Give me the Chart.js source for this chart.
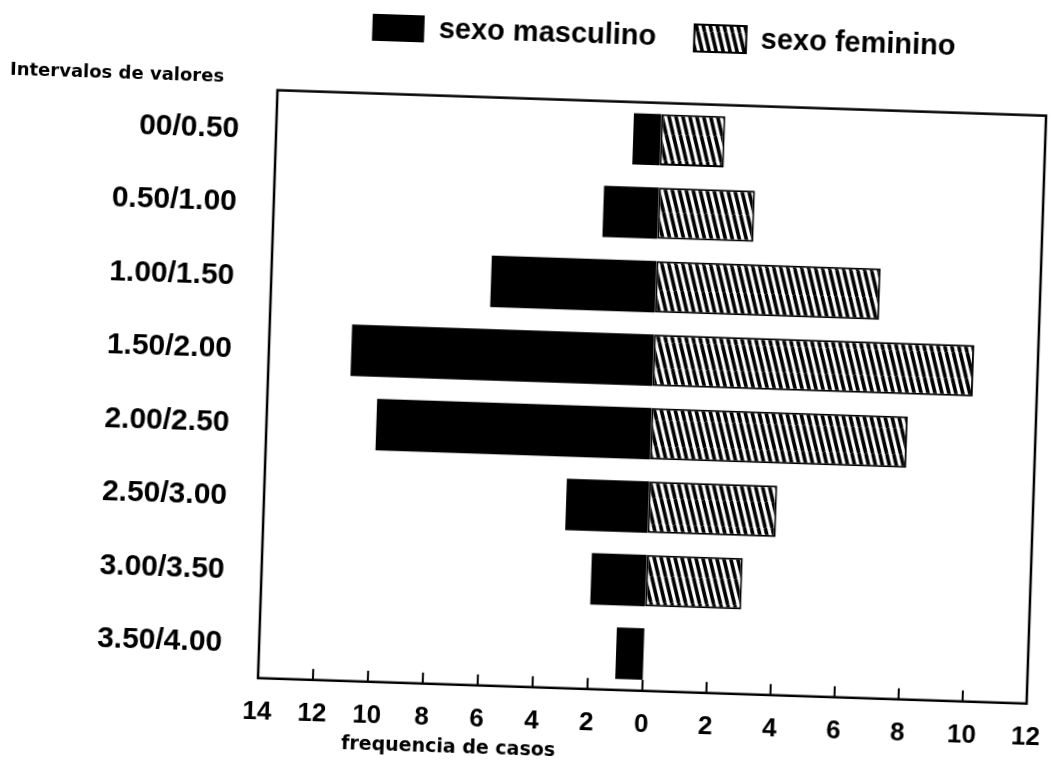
<!DOCTYPE html>
<html>
<head>
<meta charset="utf-8">
<script src="https://cdn.jsdelivr.net/npm/chart.js@4"></script>
<style>
  html, body { margin: 0; padding: 0; background: #fff; overflow: hidden; }
  /* a folha digitalizada esta ligeiramente torta */
  #folha { width: 1051px; height: 762px; transform: rotate(1.9deg); transform-origin: 50% 50%; }
</style>
</head>
<body>
<div id="folha"><canvas id="grafico" width="1051" height="762"></canvas></div>
<script>
// DADOS
const intervalos = ['00/0.50', '0.50/1.00', '1.00/1.50', '1.50/2.00', '2.00/2.50', '2.50/3.00', '3.00/3.50', '3.50/4.00'];
const masculino = [1, 2, 6, 11, 10, 3, 2, 1];
const feminino = [2, 3, 7, 10, 8, 4, 3, 0];
const eixoMin = -14;
const eixoMax = 12;
const passo = 2;

const letraForte = '"Liberation Sans", Arial, sans-serif';
Chart.defaults.font.family = '"DejaVu Sans", sans-serif';
Chart.defaults.color = '#000';

// escala com o lado esquerdo (0..14) e o direito (0..12) da mesma largura
class EscalaDividida extends Chart.LinearScale {
  getPixelForValue(v) {
    const meio = (this.left + this.right) / 2;
    if (v <= 0) return meio - v / this.min * (meio - this.left);
    return meio + v / this.max * (this.right - meio);
  }
  getValueForPixel(p) {
    const meio = (this.left + this.right) / 2;
    if (p <= meio) return (meio - p) / (meio - this.left) * this.min;
    return (p - meio) / (this.right - meio) * this.max;
  }
}
EscalaDividida.id = 'dividida';
EscalaDividida.defaults = Chart.LinearScale.defaults;
Chart.register(EscalaDividida);

// hachurado do sexo feminino
function hachura() {
  const c = document.createElement('canvas');
  c.width = 7; c.height = 26;
  const g = c.getContext('2d');
  g.fillStyle = '#fff';
  g.fillRect(0, 0, 7, 26);
  g.strokeStyle = '#000';
  g.lineWidth = 3.6;
  for (let k = -1; k <= 1; k++) {
    g.beginPath();
    g.moveTo(k * 7, 0);
    g.lineTo(k * 7 + 7, 26);
    g.stroke();
  }
  return g.createPattern(c, 'repeat');
}

// moldura, tracinhos do eixo e legenda do eixo x
const moldura = {
  id: 'moldura',
  afterDraw(chart) {
    const { ctx, chartArea: a } = chart;
    const x = chart.scales.x;
    ctx.save();
    ctx.strokeStyle = '#000';
    ctx.lineWidth = 2.5;
    ctx.strokeRect(a.left, a.top, a.right - a.left, a.bottom - a.top);
    ctx.lineWidth = 2;
    x.ticks.forEach(t => {
      if (t.value === x.min || t.value === x.max) return;
      const px = x.getPixelForValue(t.value);
      ctx.beginPath();
      ctx.moveTo(px, a.bottom);
      ctx.lineTo(px, a.bottom - 11);
      ctx.stroke();
    });
    ctx.fillStyle = '#000';
    ctx.font = 'bold 19px "DejaVu Sans"';
    ctx.textAlign = 'center';
    ctx.textBaseline = 'middle';
    ctx.fillText('frequencia de casos', x.getPixelForValue(eixoMin / 2), 750);
    ctx.restore();
  }
};

new Chart(document.getElementById('grafico'), {
  type: 'bar',
  data: {
    labels: intervalos,
    datasets: [
      {
        label: 'sexo masculino',
        data: masculino.map(v => -v),
        backgroundColor: '#000',
        borderWidth: 0
      },
      {
        label: 'sexo feminino',
        data: feminino,
        backgroundColor: hachura(),
        borderColor: '#000',
        borderWidth: 2,
        borderSkipped: false
      }
    ]
  },
  options: {
    indexAxis: 'y',
    responsive: false,
    animation: false,
    barPercentage: 0.7,
    categoryPercentage: 1,
    layout: { padding: { top: -20, right: 0, bottom: 8, left: 0 } },
    plugins: {
      legend: {
        position: 'top',
        fullSize: false,
        labels: {
          boxWidth: 52,
          boxHeight: 27,
          padding: 38,
          font: { family: letraForte, size: 29, weight: 'bold' }
        }
      },
      title: {
        display: true,
        text: 'Intervalos de valores',
        position: 'top',
        align: 'start',
        weight: 500,
        fullSize: true,
        padding: { top: 20, bottom: 0 },
        font: { size: 18, weight: 'bold' }
      },
      tooltip: { enabled: false }
    },
    scales: {
      x: {
        type: 'dividida',
        stacked: true,
        min: eixoMin,
        max: eixoMax,
        grid: { display: false, drawTicks: false },
        border: { display: false },
        ticks: {
          stepSize: passo,
          autoSkip: false,
          maxRotation: 0,
          padding: 18,
          font: { family: letraForte, size: 26, weight: 'bold' },
          callback: v => Math.abs(v)
        },
        afterFit(s) { s.paddingRight = 14; }
      },
      y: {
        stacked: true,
        grid: { display: false, drawTicks: false },
        border: { display: false },
        ticks: { padding: 37, labelOffset: 3, font: { family: letraForte, size: 30, weight: 'bold' } },
        afterFit(s) { s.width = 268; }
      }
    }
  },
  plugins: [moldura]
});
</script>
</body>
</html>
